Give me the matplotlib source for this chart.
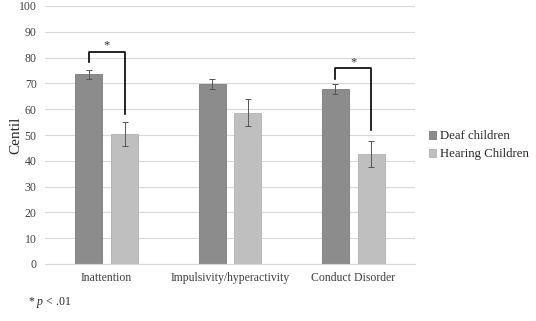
import numpy as np
import matplotlib.pyplot as plt

plt.rcParams['font.family'] = ['Liberation Serif', 'DejaVu Serif']
plt.rcParams['mathtext.fontset'] = 'custom'
plt.rcParams['mathtext.it'] = 'Liberation Serif:italic'
plt.rcParams['mathtext.rm'] = 'Liberation Serif'

categories = ["Inattention", "Impulsivity/hyperactivity", "Conduct Disorder"]
deaf = [73.5, 69.9, 67.7]
deaf_err = [1.8, 1.9, 1.9]
hearing = [50.3, 58.6, 42.5]
hearing_err = [4.7, 5.2, 5.0]

# significance brackets: (category index, top, left leg end, right leg end)
brackets = [(0, 82.2, 78.3, 58.1), (2, 75.8, 71.7, 51.9)]

x = np.arange(len(categories))
w = 0.22
off = 0.145

fig = plt.figure(figsize=(5.36, 3.21), dpi=100)
ax = fig.add_axes([45 / 536, 1 - 264 / 321, 370 / 536, 258 / 321])

ax.bar(x - off, deaf, w, color='#8c8c8c', edgecolor='#7a7a7a', linewidth=0.6,
       yerr=deaf_err, error_kw=dict(ecolor='#555555', elinewidth=0.7, capsize=2, capthick=0.7),
       label='Deaf children', zorder=2)
ax.bar(x + off, hearing, w, color='#bfbfbf', edgecolor='#b0b0b0', linewidth=0.6,
       yerr=hearing_err, error_kw=dict(ecolor='#555555', elinewidth=0.7, capsize=2, capthick=0.7),
       label='Hearing Children', zorder=2)

for i, top, l, r in brackets:
    ax.plot([i - off, i - off, i + off, i + off], [l, top, top, r],
            color='black', linewidth=1.2, zorder=3)
    ax.text(i, top + 2.5, '*', ha='center', va='center', fontsize=9, color='#333333')

ax.set_xlim(-0.5, 2.5)
ax.set_ylim(0, 100)
ax.set_yticks(range(0, 101, 10))
ax.set_xticks(x)
ax.set_xticklabels(categories)
ax.yaxis.grid(True, color='#d9d9d9', linewidth=0.8, zorder=0)
ax.set_axisbelow(True)
for s in ['top', 'right', 'left']:
    ax.spines[s].set_visible(False)
ax.spines['bottom'].set_color('#d9d9d9')
ax.tick_params(axis='both', length=0, labelsize=8.5, colors='#404040', pad=6)
ax.tick_params(axis='x', pad=6)

fig.text(16 / 536, 1 - 135 / 321, 'Centil', rotation=90, fontsize=11, color='#262626',
         ha='center', va='center')

fig.legend(loc='upper left', bbox_to_anchor=(417 / 536, 1 - 119 / 321), frameon=False,
           fontsize=9.2, handlelength=0.55, handleheight=0.55, handletextpad=0.35,
           labelspacing=0.45, labelcolor='#262626')

fig.text(28 / 536, 1 - 302 / 321, '* $p$ < .01', fontsize=8.5, va='center', color='#262626')

fig.savefig('out.png', dpi=100)
